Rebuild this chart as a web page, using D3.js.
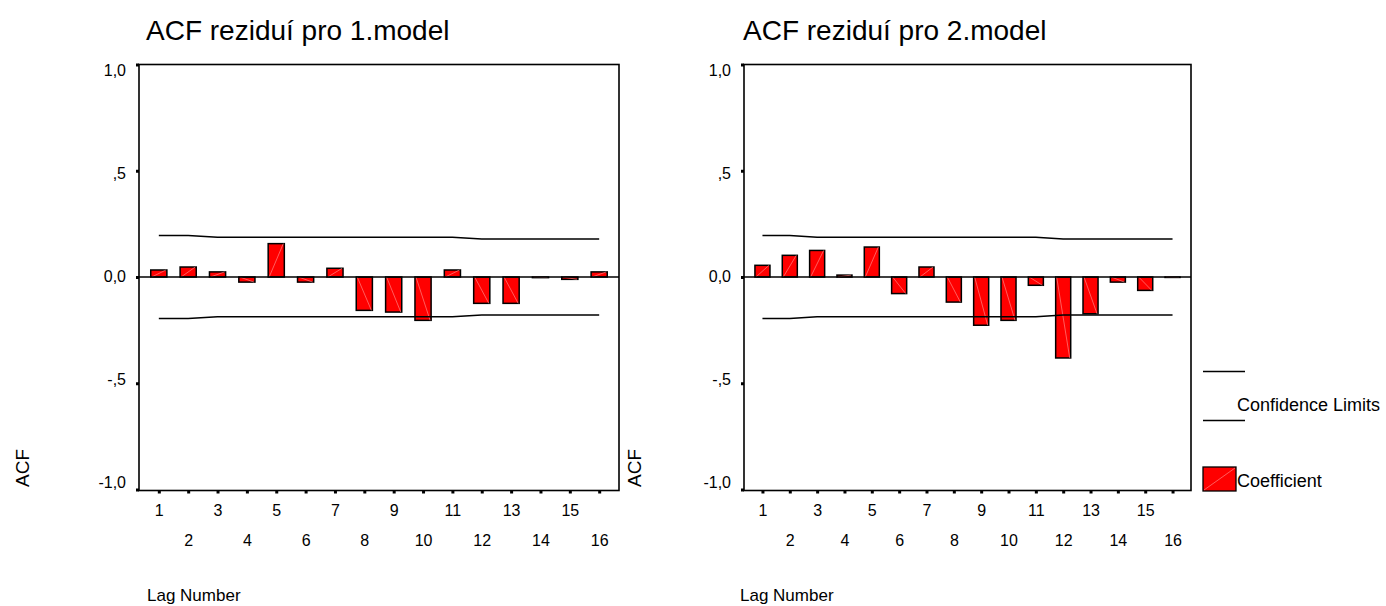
<!DOCTYPE html>
<html><head><meta charset="utf-8">
<script src="https://cdnjs.cloudflare.com/ajax/libs/d3/7.8.5/d3.min.js"></script>
<style>body{margin:0;background:#fff}svg{display:block}text{font-family:"Liberation Sans",Arial,sans-serif;fill:#000}</style>
</head><body>
<script>
const lags = [1,2,3,4,5,6,7,8,9,10,11,12,13,14,15,16];
const acf1 = [0.033,0.047,0.024,-0.024,0.157,-0.024,0.041,-0.157,-0.165,-0.204,0.033,-0.124,-0.124,-0.003,-0.011,0.024];
const acf2 = [0.055,0.102,0.125,0.009,0.141,-0.078,0.047,-0.118,-0.227,-0.204,-0.039,-0.381,-0.173,-0.024,-0.063,-0.002];
const upperLimit = [0.195,0.195,0.187,0.187,0.187,0.187,0.187,0.187,0.187,0.187,0.187,0.179,0.179,0.179,0.179,0.179];
const lowerLimit = [-0.195,-0.195,-0.187,-0.187,-0.187,-0.187,-0.187,-0.187,-0.187,-0.187,-0.187,-0.179,-0.179,-0.179,-0.179,-0.179];
const yTicks = [-1,-0.5,0,0.5,1];
const yTickLabels = ["-1,0","-,5","0,0",",5","1,0"];
const titles = ["ACF reziduí pro 1.model","ACF reziduí pro 2.model"];

const W=1386,H=606;
const svg=d3.select("body").append("svg").attr("width",W).attr("height",H);

const plotTop=64.5, plotBot=489.5;
const y=d3.scaleLinear().domain([-1,1]).range([plotBot,plotTop]);
const yLab=d3.scaleLinear().domain([-1,1]).range([482,69.5]);

function panel(x0,x1,vals,title,acfX,titleX,lagX){
  const g=svg.append("g");
  const x=d3.scalePoint().domain(lags).range([x0,x1]).padding(0.675);
  const bw=x.step()*0.55;
  // frame
  g.append("rect").attr("x",x0).attr("y",plotTop).attr("width",x1-x0).attr("height",plotBot-plotTop+1)
    .attr("fill","none").attr("stroke","#000").attr("stroke-width",1.6);
  // y axis
  const ya=g.append("g").attr("transform",`translate(${x0},0)`)
    .call(d3.axisLeft(y).tickValues(yTicks).tickFormat((d,i)=>yTickLabels[i]).tickSize(3).tickPadding(10));
  ya.select(".domain").remove();
  ya.selectAll(".tick line").attr("stroke-width",3);
  ya.selectAll(".tick text").attr("font-size",16).attr("y",d=>yLab(d)-y(d)).attr("dy","0.35em")
    .attr("font-family","Liberation Sans, Arial, sans-serif");
  // x axis
  const xa=g.append("g").attr("transform",`translate(0,${plotBot+1})`)
    .call(d3.axisBottom(x).tickValues(lags).tickSize(3).tickPadding(0));
  xa.select(".domain").remove();
  xa.selectAll(".tick line").attr("stroke-width",3);
  xa.selectAll(".tick text").attr("font-size",16).attr("dy","0")
    .attr("y",d=>d%2===1?25:55).attr("font-family","Liberation Sans, Arial, sans-serif");
  // bars
  const data=lags.map((l,i)=>({l,v:vals[i]}));
  const bars=g.append("g");
  bars.selectAll("rect").data(data).join("rect")
    .attr("x",d=>x(d.l)-bw/2).attr("width",bw)
    .attr("y",d=>y(Math.max(0,d.v))).attr("height",d=>Math.abs(y(d.v)-y(0)))
    .attr("fill","#ff0000").attr("stroke","#000").attr("stroke-width",1.5);
  bars.selectAll("line").data(data).join("line")
    .attr("x1",d=>x(d.l)-bw/2+1).attr("x2",d=>x(d.l)+bw/2-1)
    .attr("y1",d=>y(0)).attr("y2",d=>y(d.v))
    .attr("stroke","#ff9a9a").attr("stroke-width",0.6);
  // zero line
  g.append("line").attr("x1",x0).attr("x2",x1).attr("y1",y(0)).attr("y2",y(0))
    .attr("stroke","#000").attr("stroke-width",1.5);
  // confidence limits
  const ln=d3.line().x((d,i)=>x(lags[i])).y(d=>y(d));
  [upperLimit,lowerLimit].forEach(arr=>{
    g.append("path").attr("d",ln(arr)).attr("fill","none").attr("stroke","#000").attr("stroke-width",1.4);
  });
  // titles
  g.append("text").attr("x",titleX).attr("y",40).attr("font-size",28).text(title);
  g.append("text").attr("transform",`translate(${acfX},468) rotate(-90)`).attr("text-anchor","middle")
    .attr("font-size",19).text("ACF");
  g.append("text").attr("x",lagX).attr("y",601).attr("font-size",17).text("Lag Number");
}
panel(139,619,acf1,titles[0],29,146,147);
panel(744,1191,acf2,titles[1],641,743,740);

// legend
const lg=svg.append("g");
lg.append("line").attr("x1",1203).attr("x2",1245).attr("y1",371.5).attr("y2",371.5).attr("stroke","#000").attr("stroke-width",1.3);
lg.append("line").attr("x1",1203).attr("x2",1245).attr("y1",420.5).attr("y2",420.5).attr("stroke","#000").attr("stroke-width",1.3);
lg.append("text").attr("x",1237).attr("y",411).attr("font-size",18).text("Confidence Limits");
lg.append("rect").attr("x",1203).attr("y",467).attr("width",33).attr("height",24).attr("fill","#ff0000").attr("stroke","#000").attr("stroke-width",1.3);
lg.append("line").attr("x1",1204).attr("y1",490).attr("x2",1235).attr("y2",468).attr("stroke","#ff9a9a").attr("stroke-width",0.6);
lg.append("text").attr("x",1237).attr("y",487).attr("font-size",18).text("Coefficient");
</script>
</body></html>
